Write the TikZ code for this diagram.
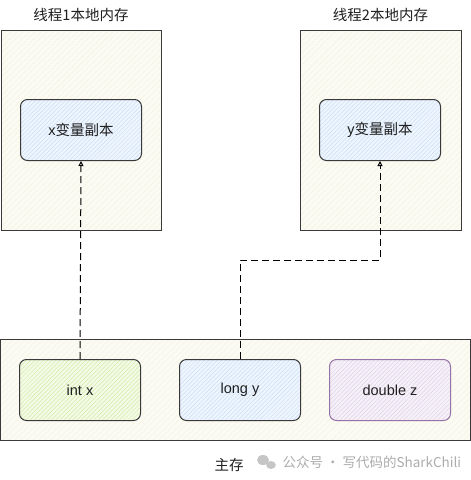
\documentclass[tikz,border=0pt]{standalone}
\usepackage{fontspec}
\setmainfont{Liberation Sans}
\newfontfamily\cjk{Noto Sans CJK SC}
\usetikzlibrary{arrows.meta,patterns.meta}
\definecolor{cream}{HTML}{FBFBF3}
\definecolor{creamline}{HTML}{F0F0DC}
\definecolor{bluef}{HTML}{EEF5FD}
\definecolor{bluel}{HTML}{C9DEF7}
\definecolor{greenf}{HTML}{F3FAE6}
\definecolor{greenl}{HTML}{D3EBA6}
\definecolor{purpf}{HTML}{F6F1F8}
\definecolor{purpl}{HTML}{E0D2E8}
\definecolor{purpd}{HTML}{9673A6}
\definecolor{edge}{HTML}{3A3A3A}
\tikzset{
  x=1pt, y=-1pt,
  every node/.style={font=\fontsize{14.5}{17}\selectfont, text=black!88},
  container/.style={draw=edge, line width=0.9pt, inner sep=0pt,
    preaction={fill=cream},
    preaction={pattern={Lines[angle=45,distance=4pt,line width=0.5pt]}, pattern color=creamline}},
  varbox/.style={draw=edge, line width=1pt, rounded corners=7pt, minimum width=121pt, minimum height=61pt, inner sep=0pt},
  bluebox/.style={varbox, preaction={fill=bluef}, preaction={pattern={Lines[angle=45,distance=3pt,line width=0.5pt]}, pattern color=bluel}},
  greenbox/.style={varbox, preaction={fill=greenf}, preaction={pattern={Lines[angle=45,distance=3pt,line width=0.5pt]}, pattern color=greenl}},
  purpbox/.style={varbox, draw=purpd, preaction={fill=purpf}, preaction={pattern={Lines[angle=45,distance=3pt,line width=0.5pt]}, pattern color=purpl}},
  link/.style={draw=black, line width=1pt, dash pattern=on 7pt off 4pt, -{Triangle[open,length=5pt,width=5pt]}},
}
\begin{document}
\begin{tikzpicture}
\useasboundingbox (0,0) rectangle (471,480);
\fill[white] (0,0) rectangle (471,480);
% thread 1
\node[container, minimum width=160pt, minimum height=200pt] (t1) at (81,130) {};
\node (t1t) at (81,15) {\cjk 线程1本地内存};
\node[bluebox] (xc) at (81,130) {x\cjk 变量副本};
% thread 2
\node[container, minimum width=161pt, minimum height=200pt] (t2) at (380.5,130) {};
\node (t2t) at (380.5,15) {\cjk 线程2本地内存};
\node[bluebox] (yc) at (380,130) {y\cjk 变量副本};
% main memory
\node[container, minimum width=470pt, minimum height=101pt] (mm) at (235,389.5) {};
\node[greenbox] (ix) at (80,390) {int x};
\node[bluebox] (ly) at (240,390) {long y};
\node[purpbox] (dz) at (390,390) {double z};
\node (mmt) at (229,465) {\cjk 主存};
% watermark
\fill[gray!45] (263,460) ellipse (6pt and 5pt);
\fill[gray!45] (271,465) ellipse (4.8pt and 4pt);
\node[text=gray!65, anchor=west, font=\fontsize{13.5}{15}\cjk] (wm) at (279,462) {公众号 · 写代码的SharkChili};
% links
\draw[link] (ix.north) -- (xc.south);
\coordinate (b1) at (240,260);
\coordinate (b2) at (380,260);
\draw[link] (ly.north) -- (b1) -- (b2) -- (yc.south);
\end{tikzpicture}
\end{document}
